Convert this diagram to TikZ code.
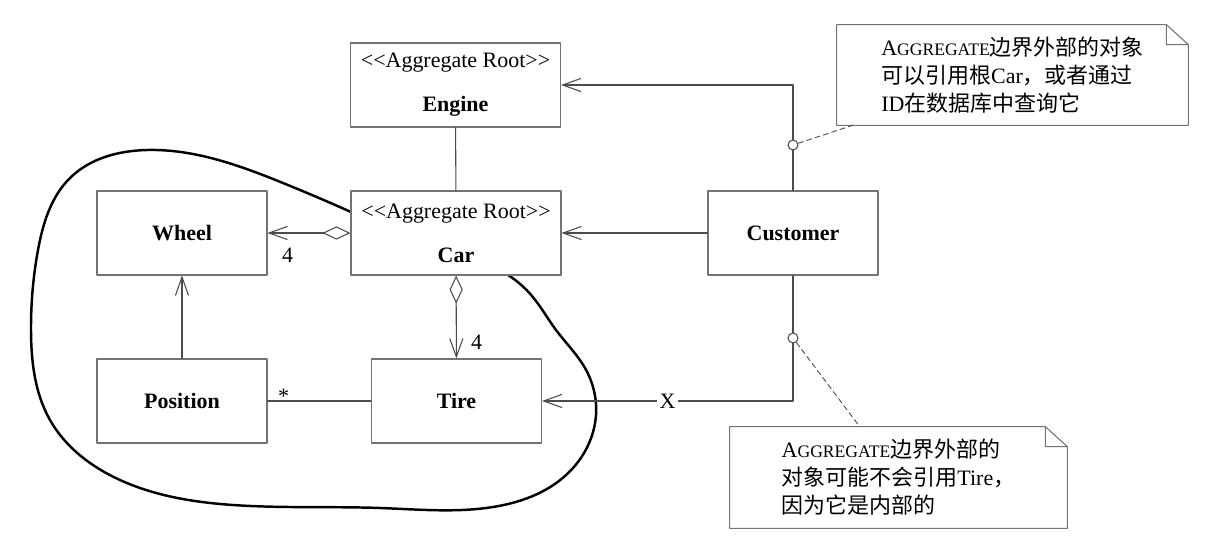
\documentclass[tikz,border=0pt]{standalone}
\usepackage{fontspec}
\setmainfont{Liberation Serif}
\newfontfamily\cjk{Noto Sans CJK SC}
\usetikzlibrary{arrows.meta,positioning,calc,hobby}
\newcommand\aggname{A{\fontsize{10}{16}\selectfont GGREGATE}}
\newcommand\rootstereo{<\kern0pt<Aggregate Root>\kern0pt>}

\begin{document}
\begin{tikzpicture}[x=0.2mm,y=-0.2mm,line cap=round,line join=round,
  font=\fontsize{12.5}{16}\selectfont,
  box/.style={draw=black!55,line width=0.6pt,minimum width=34mm,
    minimum height=16.8mm,align=center},
  rootbox/.style={box,minimum width=42mm},
  link/.style={draw=black!70,line width=0.6pt},
  nav/.style={link,-{Straight Barb[length=10.5pt,width=7.5pt]}},
  part/.style={link,{Diamond[open,length=16pt,width=7.5pt]}-{Straight Barb[length=10.5pt,width=7.5pt]}},
  hook/.style={circle,draw=black!70,fill=white,line width=0.6pt,
    inner sep=0pt,minimum size=2mm},
  memo/.style={align=left,inner sep=0pt},
  mult/.style={inner sep=0pt}]
 \useasboundingbox (0,0) rectangle (1209,556);
 % Granica agregatu: gruba linia od Car wokol Wheel, Position i Tire.
 \draw[line width=1.4pt] (351,212) to[curve through={(283,183) .. (147,150)
  .. (70,178) .. (38,250) .. (31,330) .. (50,420) .. (120,480) .. (233,505)
  .. (380,508) .. (493,507) .. (565,476) .. (596,415) .. (585,368)
  .. (556,330) .. (532,296)}] (508,275);
 % Klasy.
 \node[rootbox] (engine) at (455.5,85) {\rootstereo\\[9pt]\textbf{Engine}};
 \node[rootbox] (car) at (456,233) {\rootstereo\\[9pt]\textbf{Car}};
 \node[box] (wheel) at (182,233) {\textbf{Wheel}};
 \node[box] (position) at (182,401) {\textbf{Position}};
 \node[box] (tire) at (456.5,401) {\textbf{Tire}};
 \node[box] (customer) at (793,233) {\textbf{Customer}};
 % Powiazania wewnatrz agregatu.
 \draw[link] (engine) -- (car);
 \draw[part] (car) -- (wheel);
 \draw[part] (car) -- (tire);
 \draw[nav] (position) -- (wheel);
 \draw[link] (position) -- (tire);
 \node[mult] (wheelmult) at ([shift={(20,22)}]wheel.east) {4};
 \node[mult] (tiremult) at ([shift={(20,-16)}]tire.north) {4};
 \node[mult] (posmult) at ([shift={(16,-5)}]position.east) {*};
 % Odwolania z zewnatrz.
 \draw[nav] (customer.north) |- (engine.east);
 \draw[nav] (customer) -- (car);
 \draw[nav] (customer.south) |-
  node[pos=.75,fill=white,inner sep=1.5pt] {X} (tire.east);
 \node[hook] (hookcar) at (793,145) {};
 \node[hook] (hooktire) at (793,338) {};
 % Notatki z zagietym rogiem.
 \node[memo,minimum width=70.2mm,minimum height=20mm] (memocar)
  at (1012.5,75) {\aggname{\cjk 边界外部的对象}\\
  {\cjk 可以引用根}Car{\cjk ，或者通过}\\
  ID{\cjk 在数据库中查询它}};
 \node[memo,minimum width=67.4mm,minimum height=20.2mm] (memotire)
  at (898.5,477.5) {\aggname{\cjk 边界外部的}\\
  {\cjk 对象可能不会引用}Tire{\cjk ，}\\
  {\cjk 因为它是内部的}};
 \foreach \n in {memocar,memotire}
  \draw[black!55,line width=0.6pt] (\n.south west) -- (\n.north west)
   -- ([xshift=-4.4mm]\n.north east) -- ([yshift=-4mm]\n.north east)
   -- (\n.south east) -- cycle
   ([xshift=-4.4mm]\n.north east) |- ([yshift=-4mm]\n.north east);
 \draw[black!70,line width=0.5pt,dash pattern=on 3pt off 2pt]
  (hookcar) -- ([xshift=3.2mm]memocar.south west);
 \draw[black!70,line width=0.5pt,dash pattern=on 3pt off 2pt]
  (hooktire) -- ([xshift=26mm]memotire.north west);
\end{tikzpicture}
\end{document}
